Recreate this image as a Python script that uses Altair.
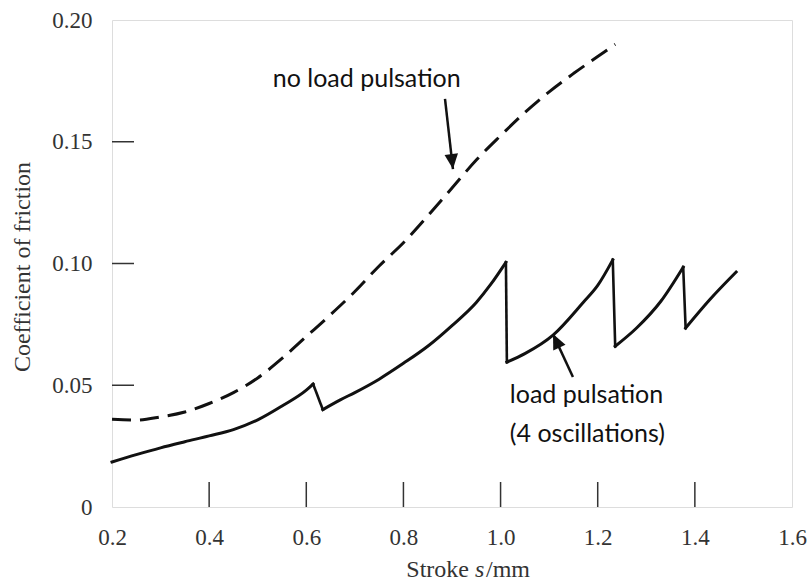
import altair as alt
import pandas as pd

# Friction coefficient versus stroke, without and with load pulsation
stroke_steady = [0.20, 0.25, 0.30, 0.35, 0.40, 0.45, 0.50, 0.55, 0.60, 0.65, 0.70,
                 0.75, 0.80, 0.85, 0.90, 0.95, 1.00, 1.05, 1.10, 1.15, 1.20, 1.236]
mu_steady = [0.0360, 0.0357, 0.0370, 0.0390, 0.0425, 0.0470, 0.0530, 0.0610, 0.0700,
             0.0790, 0.0885, 0.0990, 0.1085, 0.1195, 0.1310, 0.1425, 0.1525, 0.1620,
             0.1705, 0.1780, 0.1850, 0.1900]

# pulsed curve: one rising branch per load cycle; the friction drops between branches
stroke_pulsed = [
    [0.20, 0.25, 0.30, 0.35, 0.40, 0.45, 0.50, 0.55, 0.60, 0.614],
    [0.634, 0.67, 0.70, 0.75, 0.80, 0.85, 0.90, 0.95, 0.98, 1.011],
    [1.013, 1.05, 1.108, 1.17, 1.20, 1.231],
    [1.236, 1.28, 1.33, 1.376],
    [1.381, 1.43, 1.485],
]
mu_pulsed = [
    [0.0185, 0.0215, 0.0243, 0.0268, 0.0292, 0.0318, 0.0358, 0.0415, 0.0480, 0.0505],
    [0.0400, 0.0440, 0.0470, 0.0525, 0.0590, 0.0660, 0.0745, 0.0840, 0.0915, 0.1005],
    [0.0595, 0.0630, 0.0706, 0.0840, 0.0910, 0.1015],
    [0.0660, 0.0735, 0.0845, 0.0985],
    [0.0735, 0.0850, 0.0965],
]

x_ticks = [0.4, 0.6, 0.8, 1.0, 1.2, 1.4]
y_ticks = [0.05, 0.10, 0.15]
x_labels = [0.2, 0.4, 0.6, 0.8, 1.0, 1.2, 1.4, 1.6]
y_labels = [0.0, 0.05, 0.10, 0.15, 0.20]

W, H = 680, 487
SERIF = "Liberation Serif"
SANS = "Lato"
INK = "#111111"
AXIS = "#333333"

steady = pd.DataFrame({"s": stroke_steady, "mu": mu_steady})
pulsed = pd.DataFrame([
    {"s": s, "mu": m, "branch": i}
    for i, (ss, mm) in enumerate(zip(stroke_pulsed, mu_pulsed))
    for s, m in zip(ss, mm)
])
drops = pd.DataFrame([
    {"s0": stroke_pulsed[i][-1], "mu0": mu_pulsed[i][-1],
     "s1": stroke_pulsed[i + 1][0], "mu1": mu_pulsed[i + 1][0]}
    for i in range(len(stroke_pulsed) - 1)
])

xs = alt.Scale(domain=[0.2, 1.6], nice=False, zero=False)
ys = alt.Scale(domain=[0.0, 0.2], nice=False, zero=False)

x_axis = alt.Axis(values=x_labels, format=".1f", grid=False, domain=False, ticks=False,
                  tickSize=0, labelPadding=19, labelFont=SERIF, labelFontSize=23,
                  labelColor=AXIS, title=None, labelFlush=False)
y_axis = alt.Axis(values=y_labels, labelExpr="datum.value == 0 ? '0' : format(datum.value, '.2f')",
                  grid=False, domain=False, ticks=False, tickSize=0, labelPadding=20,
                  labelFont=SERIF, labelFontSize=23, labelColor=AXIS, title=None,
                  labelFlush=False)

line_steady = alt.Chart(steady).mark_line(
    color=INK, strokeWidth=3, strokeDash=[19, 9], strokeCap="butt", interpolate="monotone"
).encode(
    x=alt.X("s:Q", scale=xs, axis=x_axis),
    y=alt.Y("mu:Q", scale=ys, axis=y_axis),
)

line_pulsed = alt.Chart(pulsed).mark_line(
    color=INK, strokeWidth=3, interpolate="monotone", strokeCap="square"
).encode(x=alt.X("s:Q", scale=xs), y=alt.Y("mu:Q", scale=ys), detail="branch:N")

line_drops = alt.Chart(drops).mark_rule(color=INK, strokeWidth=2.6, strokeCap="square").encode(
    x=alt.X("s0:Q", scale=xs), y=alt.Y("mu0:Q", scale=ys), x2="s1:Q", y2="mu1:Q"
)

# inward tick marks
xtick = alt.Chart(pd.DataFrame({"t": x_ticks})).mark_rule(color=AXIS, strokeWidth=1.5).encode(
    x=alt.X("t:Q", scale=xs), y=alt.value(H), y2=alt.value(H - 25)
)
ytick = alt.Chart(pd.DataFrame({"t": y_ticks})).mark_rule(color=AXIS, strokeWidth=1.5).encode(
    y=alt.Y("t:Q", scale=ys), x=alt.value(0), x2=alt.value(22)
)

# annotation labels and arrows
notes = pd.DataFrame({
    "s": [0.531, 1.019, 1.019],
    "mu": [0.1725, 0.0427, 0.0267],
    "txt": ["no load pulsation", "load pulsation", "(4 oscillations)"],
})
note_text = alt.Chart(notes).mark_text(
    font=SANS, fontSize=25, align="left", baseline="alphabetic", color=INK
).encode(x=alt.X("s:Q", scale=xs), y=alt.Y("mu:Q", scale=ys), text="txt:N")

arrows = pd.DataFrame({
    "s0": [0.8856, 1.149], "mu0": [0.1676, 0.0534],
    "s1": [0.902, 1.108], "mu1": [0.1388, 0.0710],
    "ang": [173.5, 335.0],
})
arrow_shaft = alt.Chart(arrows).mark_rule(color=INK, strokeWidth=2.5).encode(
    x=alt.X("s0:Q", scale=xs), y=alt.Y("mu0:Q", scale=ys),
    x2="s1:Q", y2="mu1:Q",
)
arrow_head = alt.Chart(arrows).mark_point(
    shape="M0,0 L-0.45,1 L0.45,1 Z", size=900, filled=True, color=INK, opacity=1
).encode(
    x=alt.X("s1:Q", scale=xs), y=alt.Y("mu1:Q", scale=ys),
    angle=alt.Angle("ang:Q", scale=None),
)

# axis titles (italic symbol s in the stroke title)
title_x_a = alt.Chart(pd.DataFrame({"t": ["Stroke"]})).mark_text(
    font=SERIF, fontSize=24, align="right", baseline="alphabetic", color=AXIS
).encode(x=alt.value(357), y=alt.value(H + 70), text="t:N")
title_x_b = alt.Chart(pd.DataFrame({"t": ["s"]})).mark_text(
    font=SERIF, fontSize=24, fontStyle="italic", align="left", baseline="alphabetic", color=AXIS
).encode(x=alt.value(363), y=alt.value(H + 70), text="t:N")
title_x_c = alt.Chart(pd.DataFrame({"t": ["/mm"]})).mark_text(
    font=SERIF, fontSize=24, align="left", baseline="alphabetic", color=AXIS
).encode(x=alt.value(374), y=alt.value(H + 70), text="t:N")
title_y = alt.Chart(pd.DataFrame({"t": ["Coefficient of friction"]})).mark_text(
    font=SERIF, fontSize=24, angle=270, align="center", baseline="middle", color=AXIS
).encode(x=alt.value(-89), y=alt.value(247), text="t:N")

chart = alt.layer(
    line_steady, line_pulsed, line_drops, xtick, ytick, note_text, arrow_shaft, arrow_head,
    title_x_a, title_x_b, title_x_c, title_y,
).properties(
    width=W, height=H,
    autosize=alt.AutoSizeParams(type="none"),
    padding={"left": 112, "top": 20, "right": 19, "bottom": 75},
).configure_view(
    stroke=AXIS, strokeWidth=1.6
).configure(background="white")

chart.save("out.html", embed_options={"renderer": "svg", "actions": False})
